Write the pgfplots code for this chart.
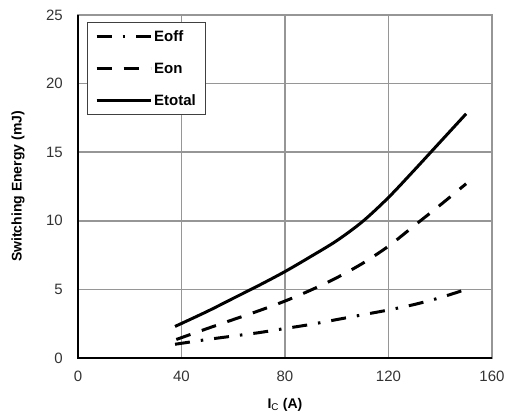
\documentclass[border=0pt]{standalone}
\usepackage{pgfplots}
\pgfplotsset{compat=1.18}
\usepackage{fontspec}
\setmainfont{Liberation Sans}
\definecolor{gridgray}{RGB}{150,150,150}
\begin{document}
\begin{tikzpicture}
\begin{axis}[
  scale only axis,
  width=414pt, height=343pt,
  xmin=0, xmax=160, ymin=0, ymax=25,
  xtick={0,40,80,120,160}, ytick={0,5,10,15,20,25},
  axis line style={gridgray, line width=1.6pt},
  grid=major,
  major grid style={draw=gridgray, line width=1.6pt, solid},
  tick style={draw=none},
  tick label style={font=\fontsize{15}{18}\selectfont, text=black!80, inner sep=0pt},
  /pgf/number format/assume math mode=true,
  xticklabel shift=13pt,
  yticklabel shift=15pt,
  xlabel={\textbf{I}\textsubscript{C}\textbf{ (A)}},
  ylabel={\textbf{Switching Energy (mJ)}},
  label style={font=\fontsize{14}{17}\selectfont},
  xlabel style={at={(axis description cs:0.5,-0.137)}, anchor=center},
  ylabel style={at={(axis description cs:-0.145,0.5)}, anchor=center},
  clip=false,
  legend style={at={(axis description cs:0.021,0.98)}, anchor=north west,
    draw=black!75, line width=1pt, fill=white,
    font=\bfseries\fontsize{15}{18}\selectfont,
    inner xsep=8pt, inner ysep=6pt, row sep=16pt,
    cells={anchor=west}},
  legend image code/.code={\draw[#1] (0pt,0pt) -- (54pt,0pt);},
]
\draw[black, line width=1.8pt] (rel axis cs:0,1) -- (rel axis cs:0,0) -- (rel axis cs:1,0);
\addplot[black, line width=3pt, dash pattern=on 15pt off 11pt on 2.5pt off 11pt, smooth] coordinates {
(37.5,1.0) (50,1.35) (60,1.6) (70,1.85) (80,2.15) (90,2.45) (100,2.8) (110,3.15) (120,3.5) (130,3.9) (140,4.4) (150,5.0)};
\addlegendentry{Eoff}
\addplot[black, line width=3pt, dash pattern=on 15pt off 12pt, smooth] coordinates {
(38,1.35) (50,2.15) (60,2.8) (70,3.45) (80,4.15) (90,4.95) (100,5.85) (110,6.9) (120,8.15) (130,9.65) (140,11.15) (150,12.7)};
\addlegendentry{Eon}
\addplot[black, line width=3pt, smooth] coordinates {
(37.5,2.3) (50,3.4) (60,4.35) (70,5.3) (80,6.3) (90,7.4) (100,8.55) (110,9.95) (120,11.7) (130,13.7) (140,15.75) (150,17.8)};
\addlegendentry{Etotal}
\path (axis description cs:-0.1884,-0.1778) rectangle (axis description cs:1.0314,1.0437);
\end{axis}
\end{tikzpicture}
\end{document}
